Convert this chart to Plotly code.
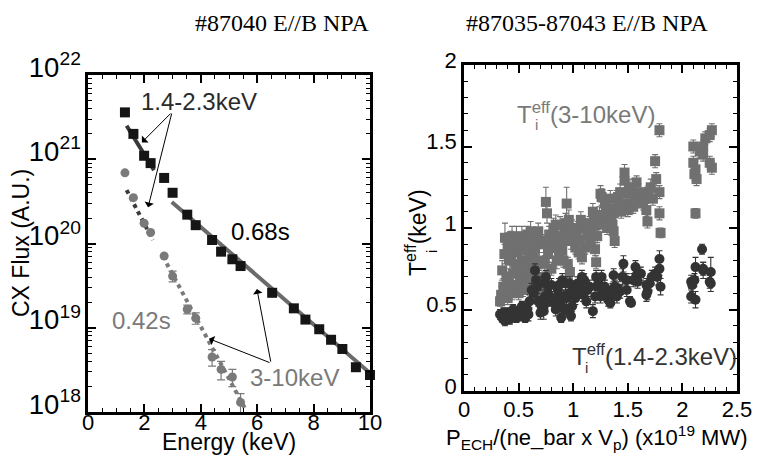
import plotly.graph_objects as go

# ---------------- data: left panel (#87040) ----------------
E_068 = [1.31, 1.61, 1.99, 2.22, 2.70, 3.00, 3.52, 3.82, 4.40, 4.72,
         5.12, 5.41, 6.53, 7.30, 7.71, 8.20, 8.62, 9.02, 9.50, 10.0]
F_068 = [3.6e21, 2.0e21, 1.1e21, 9.0e20, 6.0e20, 4.0e20, 2.2e20, 1.65e20, 1.1e20, 8.0e19,
         6.5e19, 5.4e19, 2.6e19, 1.7e19, 1.25e19, 9.6e18, 7.2e18, 5.6e18, 3.4e18, 2.75e18]

E_042 = [1.31, 1.61, 1.99, 2.22, 2.70, 3.00, 3.52, 3.82, 4.40, 4.72, 5.12, 5.41]
F_042 = [6.9e20, 3.5e20, 1.74e20, 1.35e20, 7.1e19, 4.1e19, 1.66e19, 1.3e19,
         4.5e18, 3.2e18, 2.6e18, 1.3e18]
ERR_042 = [0, 0, 0, 0, 0, 6e18, 2e18, 2e18, 1e18, 8e17, 6e17, 3.5e17]

FIT_068_LOW_E = [1.37, 2.34]
FIT_068_LOW_F = [2.5e21, 7.4e20]
FIT_068_HIGH_E = [2.97, 10.0]
FIT_068_HIGH_F = [3.1e20, 2.9e18]
FIT_042_LOW_E = [1.37, 2.30]
FIT_042_LOW_F = [4.3e20, 1.1e20]
FIT_042_HIGH_E = [2.79, 5.57]
FIT_042_HIGH_F = [5.8e19, 1.1e18]

# ---------------- data: right panel (#87035-87043) ----------------
# Ti_eff from the 3-10 keV range (grey squares)
P_HI = [0.33, 0.34, 0.35, 0.375, 0.38, 0.40, 0.41, 0.42, 0.43, 0.45, 0.46, 0.48, 0.50, 0.50,
        0.52, 0.53, 0.55, 0.56, 0.58, 0.58, 0.60, 0.62, 0.63, 0.65, 0.66, 0.68, 0.70, 0.71,
        0.72, 0.75, 0.76, 0.77, 0.78, 0.80, 0.82, 0.83, 0.85, 0.86, 0.88, 0.90, 0.92, 0.94,
        0.95, 0.96, 0.97, 0.98, 1.00, 1.02, 1.04, 1.06, 1.08, 1.09, 1.11, 1.13, 1.15, 1.17,
        1.19, 1.20, 1.21, 1.23, 1.25, 1.26, 1.28, 1.30, 1.33, 1.35, 1.37, 1.37, 1.38, 1.40,
        1.41, 1.44, 1.47, 1.47, 1.49, 1.50, 1.53, 1.55, 1.57, 1.58, 1.62, 1.67, 1.67, 1.68,
        1.69, 1.75, 1.76, 1.79, 1.79, 1.79, 1.80, 2.10, 2.10, 2.11, 2.12, 2.13, 2.12, 2.16,
        2.19, 2.19, 2.21, 2.25, 2.27, 2.25, 2.27,
        0.36, 0.37, 0.39, 0.40, 0.44, 0.44, 0.47, 0.47, 0.49, 0.51,
        0.52, 0.54, 0.54, 0.57, 0.57, 0.59, 0.61, 0.61, 0.64, 0.64,
        0.67, 0.69, 0.69, 0.73, 0.74, 0.79, 0.81, 0.84, 0.87, 0.89,
        0.91, 0.93, 0.99, 1.03, 1.05, 1.07, 1.12, 1.16, 1.18, 1.22,
        1.24, 1.29, 1.31, 1.34, 1.36, 1.39, 1.43, 1.45, 1.52, 1.56,
        1.60, 1.64, 1.71, 1.73]
T_HI = [0.55, 0.59, 0.74, 0.94, 0.62, 0.57, 0.66, 0.80, 0.88, 0.72, 0.85, 0.92, 0.60, 0.78,
        0.68, 0.95, 0.87, 0.75, 0.96, 0.64, 0.82, 0.93, 0.70, 0.88, 0.78, 0.98, 0.60, 0.92,
        0.67, 1.16, 1.09, 0.84, 0.96, 0.75, 1.00, 0.90, 0.80, 0.95, 1.02, 0.86, 0.97, 1.15,
        0.78, 1.05, 0.73, 0.92, 0.98, 0.88, 1.00, 0.93, 0.82, 1.01, 0.88, 0.95, 1.03, 0.98,
        1.07, 0.87, 0.79, 1.02, 1.21, 1.19, 1.05, 1.12, 1.10, 1.07, 1.09, 0.98, 0.92, 1.18,
        1.19, 1.10, 1.34, 1.29, 1.21, 1.11, 1.15, 1.13, 1.20, 1.28, 1.17, 1.21, 1.11, 1.04,
        1.22, 1.41, 1.30, 1.60, 1.22, 1.09, 0.97, 1.50, 1.40, 1.33, 1.36, 1.30, 1.09, 1.47,
        1.50, 1.45, 1.55, 1.57, 1.60, 1.40, 1.37,
        0.64, 0.84, 0.70, 0.90, 0.60, 0.95, 0.65, 0.78, 0.85, 0.72,
        0.90, 0.62, 0.80, 0.70, 0.90, 0.78, 0.66, 0.98, 0.84, 0.74,
        0.92, 0.80, 0.70, 0.90, 0.78, 0.88, 0.93, 1.02, 0.85, 0.92,
        0.80, 1.03, 1.00, 0.95, 0.85, 1.05, 1.00, 0.92, 1.10, 0.95,
        1.08, 1.15, 1.00, 1.18, 1.02, 1.12, 1.22, 1.15, 1.25, 1.18,
        1.22, 1.15, 1.25, 1.18]
E_HI = [0.03, 0.05, 0.06, 0.09, 0.04, 0.04, 0.05, 0.07, 0.10, 0.05, 0.08, 0.09, 0.04, 0.06,
        0.05, 0.06, 0.06, 0.05, 0.05, 0.04, 0.05, 0.05, 0.05, 0.05, 0.04, 0.05, 0.04, 0.04,
        0.04, 0.09, 0.06, 0.05, 0.05, 0.04, 0.06, 0.05, 0.05, 0.06, 0.05, 0.05, 0.05, 0.10,
        0.04, 0.06, 0.04, 0.05, 0.04, 0.04, 0.04, 0.04, 0.04, 0.04, 0.04, 0.04, 0.04, 0.04,
        0.05, 0.04, 0.04, 0.04, 0.05, 0.05, 0.04, 0.04, 0.04, 0.04, 0.04, 0.04, 0.04, 0.05,
        0.04, 0.04, 0.05, 0.05, 0.04, 0.04, 0.04, 0.04, 0.04, 0.04, 0.04, 0.04, 0.04, 0.04,
        0.04, 0.04, 0.04, 0.04, 0.04, 0.04, 0.03, 0.04, 0.04, 0.04, 0.05, 0.04, 0.03, 0.04,
        0.04, 0.04, 0.04, 0.04, 0.04, 0.04, 0.04,
        0.05, 0.06, 0.05, 0.07, 0.04, 0.06, 0.05, 0.05, 0.06, 0.05,
        0.06, 0.04, 0.05, 0.05, 0.06, 0.05, 0.04, 0.06, 0.05, 0.05,
        0.05, 0.05, 0.04, 0.05, 0.05, 0.05, 0.05, 0.06, 0.05, 0.05,
        0.04, 0.06, 0.05, 0.05, 0.04, 0.05, 0.05, 0.04, 0.05, 0.04,
        0.05, 0.05, 0.04, 0.05, 0.04, 0.05, 0.05, 0.04, 0.05, 0.04,
        0.05, 0.04, 0.05, 0.04]

# Ti_eff from the 1.4-2.3 keV range (dark circles)
P_LO = [0.33, 0.35, 0.375, 0.40, 0.42, 0.45, 0.48, 0.50, 0.51, 0.53, 0.56, 0.57, 0.58, 0.60,
        0.62, 0.65, 0.67, 0.68, 0.70, 0.73, 0.73, 0.75, 0.77, 0.80, 0.82, 0.85, 0.86, 0.88,
        0.89, 0.90, 0.92, 0.93, 0.94, 0.96, 0.98, 0.99, 1.00, 1.02, 1.06, 1.09, 1.10, 1.13,
        1.18, 1.20, 1.21, 1.22, 1.23, 1.25, 1.27, 1.30, 1.32, 1.34, 1.34, 1.37, 1.38, 1.41,
        1.43, 1.46, 1.49, 1.49, 1.52, 1.53, 1.57, 1.58, 1.59, 1.67, 1.68, 1.67, 1.72, 1.75,
        1.79, 1.79, 1.80, 2.08, 2.08, 2.09, 2.11, 2.12, 2.12, 2.18, 2.19, 2.19, 2.25, 2.26,
        2.26,
        0.36, 0.38, 0.41, 0.44, 0.47, 0.52, 0.55, 0.59, 0.64, 0.66,
        0.69, 0.71, 0.74, 0.76, 0.79, 0.84, 0.87, 0.91, 0.95, 0.97,
        1.01, 1.04, 1.08, 1.12, 1.15, 1.26, 1.29, 1.36, 1.40, 1.45,
        1.55, 1.62, 1.70, 1.77]
T_LO = [0.47, 0.45, 0.43, 0.48, 0.44, 0.50, 0.45, 0.47, 0.48, 0.52, 0.45, 0.46, 0.50, 0.55,
        0.62, 0.74, 0.64, 0.55, 0.48, 0.49, 0.52, 0.70, 0.60, 0.65, 0.55, 0.58, 0.62, 0.54,
        0.45, 0.68, 0.50, 0.66, 0.57, 0.60, 0.46, 0.52, 0.63, 0.57, 0.64, 0.59, 0.68, 0.62,
        0.49, 0.58, 0.70, 0.64, 0.66, 0.58, 0.62, 0.60, 0.56, 0.54, 0.60, 0.71, 0.64, 0.63,
        0.61, 0.78, 0.68, 0.62, 0.55, 0.54, 0.76, 0.71, 0.67, 0.65, 0.61, 0.59, 0.70, 0.72,
        0.81, 0.75, 0.64, 0.67, 0.58, 0.65, 0.68, 0.56, 0.76, 0.87, 0.74, 0.75, 0.67, 0.73,
        0.66,
        0.48, 0.46, 0.46, 0.47, 0.48, 0.46, 0.48, 0.47, 0.60, 0.68,
        0.66, 0.52, 0.58, 0.65, 0.55, 0.50, 0.65, 0.58, 0.50, 0.66,
        0.60, 0.66, 0.70, 0.55, 0.64, 0.70, 0.64, 0.62, 0.58, 0.70,
        0.68, 0.72, 0.66, 0.70]
E_LO = [0.03, 0.03, 0.03, 0.03, 0.03, 0.03, 0.03, 0.03, 0.03, 0.03, 0.03, 0.03, 0.03, 0.04,
        0.04, 0.04, 0.04, 0.03, 0.04, 0.05, 0.04, 0.04, 0.04, 0.04, 0.03, 0.04, 0.04, 0.03,
        0.03, 0.04, 0.04, 0.04, 0.04, 0.04, 0.03, 0.03, 0.04, 0.04, 0.04, 0.04, 0.04, 0.04,
        0.04, 0.04, 0.04, 0.04, 0.04, 0.04, 0.04, 0.04, 0.04, 0.03, 0.04, 0.04, 0.04, 0.04,
        0.04, 0.05, 0.04, 0.04, 0.03, 0.02, 0.04, 0.04, 0.04, 0.04, 0.05, 0.04, 0.04, 0.04,
        0.05, 0.04, 0.05, 0.04, 0.04, 0.04, 0.04, 0.05, 0.06, 0.03, 0.05, 0.04, 0.04, 0.09,
        0.05,
        0.03, 0.04, 0.03, 0.03, 0.04, 0.03, 0.03, 0.04, 0.04, 0.04,
        0.04, 0.04, 0.04, 0.04, 0.03, 0.04, 0.04, 0.04, 0.03, 0.04,
        0.04, 0.04, 0.04, 0.04, 0.04, 0.04, 0.04, 0.04, 0.04, 0.05,
        0.04, 0.04, 0.04, 0.05]

# ---------------- styling ----------------
W, H = 759, 457
SANS = "Liberation Sans, Arial, sans-serif"
SERIF = "Liberation Serif, Times New Roman, serif"
BLACK_SQ = "#151515"
GRAY_CIRC = "#7a7a7a"
GRAY_SQ = "#707070"
DARK_CIRC = "#333333"


def fx(p):
    return p / W


def fy(p):
    return 1 - p / H


fig = go.Figure()

# left panel fits
fig.add_trace(go.Scatter(x=FIT_068_LOW_E, y=FIT_068_LOW_F, mode="lines",
                         line=dict(color="#3a3a3a", width=4), xaxis="x", yaxis="y"))
fig.add_trace(go.Scatter(x=FIT_068_HIGH_E, y=FIT_068_HIGH_F, mode="lines",
                         line=dict(color="#6a6a6a", width=4), xaxis="x", yaxis="y"))
fig.add_trace(go.Scatter(x=FIT_042_LOW_E, y=FIT_042_LOW_F, mode="lines",
                         line=dict(color="#3a3a3a", width=4, dash="dot"), xaxis="x", yaxis="y"))
fig.add_trace(go.Scatter(x=FIT_042_HIGH_E, y=FIT_042_HIGH_F, mode="lines",
                         line=dict(color="#7a7a7a", width=4, dash="dot"), xaxis="x", yaxis="y"))
# left panel points
fig.add_trace(go.Scatter(x=E_042, y=F_042, mode="markers",
                         marker=dict(symbol="circle", size=9, color=GRAY_CIRC),
                         error_y=dict(type="data", array=ERR_042, color=GRAY_CIRC,
                                      thickness=1.2, width=4),
                         xaxis="x", yaxis="y", cliponaxis=False))
fig.add_trace(go.Scatter(x=E_068, y=F_068, mode="markers",
                         marker=dict(symbol="square", size=10, color=BLACK_SQ),
                         xaxis="x", yaxis="y", cliponaxis=False))

# right panel points
fig.add_trace(go.Scatter(x=P_HI, y=T_HI, mode="markers",
                         marker=dict(symbol="square", size=10, color=GRAY_SQ),
                         error_y=dict(type="data", array=E_HI, color=GRAY_SQ,
                                      thickness=1.1, width=3),
                         xaxis="x2", yaxis="y2"))
fig.add_trace(go.Scatter(x=P_LO, y=T_LO, mode="markers",
                         marker=dict(symbol="circle", size=10, color=DARK_CIRC),
                         error_y=dict(type="data", array=E_LO, color=DARK_CIRC,
                                      thickness=1.1, width=3),
                         xaxis="x2", yaxis="y2"))

axis_common = dict(showline=True, linewidth=2.5, linecolor="black", mirror="ticks",
                   ticks="inside", ticklen=8, tickwidth=1.5, tickcolor="black",
                   showgrid=False, zeroline=False,
                   tickfont=dict(family=SANS, size=22, color="black"))
minor_common = dict(ticks="inside", ticklen=4, tickwidth=1.2, tickcolor="black", showgrid=False)

fig.update_layout(
    width=W, height=H, autosize=False,
    margin=dict(l=0, r=0, t=0, b=0, autoexpand=False),
    paper_bgcolor="white", plot_bgcolor="white",
    showlegend=False,
    xaxis=dict(domain=[fx(88), fx(370)], range=[0, 10], tick0=0, dtick=2, anchor="y",
               ticklabelstandoff=-11,
               minor=dict(dtick=0.5, **minor_common), **axis_common),
    yaxis=dict(domain=[fy(412), fy(75)], type="log", range=[18, 22], dtick=1,
               exponentformat="power", anchor="x", ticklabelshift=-8,
               minor=dict(dtick="D1", **minor_common), **axis_common),
    xaxis2=dict(domain=[fx(464), fx(737)], range=[0, 2.5], tick0=0, dtick=0.5, anchor="y2",
                ticklabelstandoff=-3,
                minor=dict(dtick=0.1, **minor_common), **axis_common),
    yaxis2=dict(domain=[fy(391), fy(65)], range=[0, 2], tick0=0, dtick=0.5, anchor="x2",
                ticklabelshift=-5,
                minor=dict(dtick=0.1, **minor_common), **axis_common),
)

ann = []


def text(xp, yp, s, size=23, color="black", family=SANS, angle=0, xanchor="center",
         yanchor="middle"):
    ann.append(dict(x=fx(xp), y=fy(yp), xref="paper", yref="paper", text=s,
                    showarrow=False, textangle=angle, xanchor=xanchor, yanchor=yanchor,
                    font=dict(family=family, size=size, color=color)))


# panel titles
text(282, 23, "#87040 E//B NPA", size=24, family=SERIF)
text(587, 23, "#87035-87043 E//B NPA", size=24, family=SERIF)

# axis titles
text(21, 243, "CX Flux (A.U.)", angle=-90)
text(229, 442, "Energy (keV)")
text(416, 233, "T<sup>eff</sup>(keV)", angle=-90)
text(431, 252, "i", size=15, angle=-90)
text(597, 437, "P<sub>ECH</sub>/(ne_bar x V<sub>p</sub>) (x10<sup>19</sup> MW)", size=22)

# left annotations
text(199, 101, "1.4-2.3keV", size=24, color="#2a2a2a")
text(260, 231, "0.68s", size=24)
text(141, 320, "0.42s", size=24, color="#7a7a7a")
text(294, 377, "3-10keV", size=24, color="#7a7a7a")

# right annotations
text(515, 113, "T<sup>eff</sup>(3-10keV)", size=24, color="#7a7a7a", xanchor="left")
text(536, 124, "i", size=15, color="#7a7a7a")
text(570, 355, "T<sup>eff</sup>(1.4-2.3keV)", size=24, color="#333333", xanchor="left")
text(586, 367, "i", size=15, color="#333333")


def arrow(x_to, y_to, x_from, y_from):
    ann.append(dict(x=x_to, y=y_to, ax=x_from, ay=y_from, xref="x", yref="y",
                    axref="x", ayref="y", text="", showarrow=True, arrowhead=1,
                    arrowsize=1.6, arrowwidth=1, arrowcolor="black"))


# arrows (log10 units on y)
arrow(1.91, 21.20, 2.98, 21.56)
arrow(2.13, 20.43, 2.98, 21.56)
arrow(5.99, 19.46, 6.49, 18.58)
arrow(4.29, 18.87, 6.49, 18.58)

fig.update_layout(annotations=ann)
fig.write_html("out.html",
               config={"responsive": False, "displayModeBar": False},
               post_script="document.body.style.margin='0px';")
